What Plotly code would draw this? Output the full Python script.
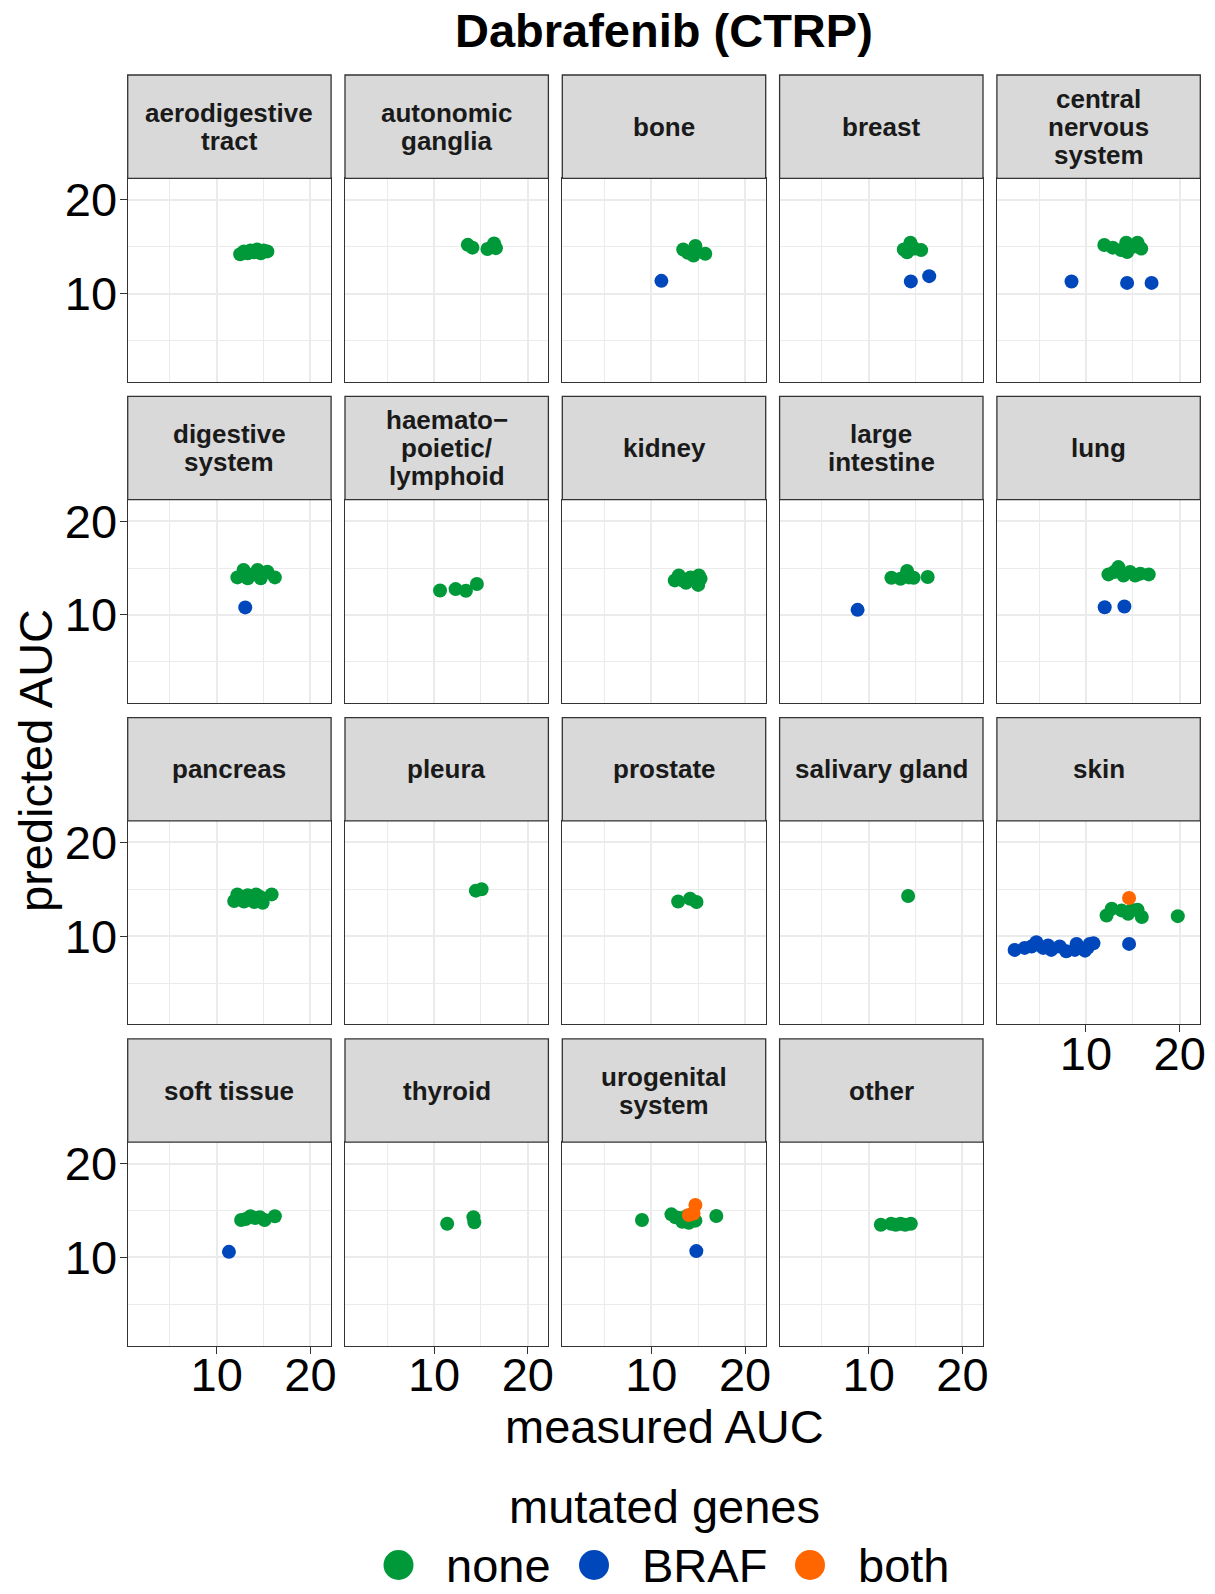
import plotly.graph_objects as go

# ---------------- data ----------------
tissues = ["aerodigestive tract", "autonomic ganglia", "bone", "breast", "central nervous system",
           "digestive system", "haematopoietic/lymphoid", "kidney", "large intestine", "lung",
           "pancreas", "pleura", "prostate", "salivary gland", "skin",
           "soft tissue", "thyroid", "urogenital system", "other"]
strip_labels = ["aerodigestive\ntract", "autonomic\nganglia", "bone", "breast", "central\nnervous\nsystem",
                "digestive\nsystem", "haemato\u2212\npoietic/\nlymphoid", "kidney", "large\nintestine", "lung",
                "pancreas", "pleura", "prostate", "salivary gland", "skin",
                "soft tissue", "thyroid", "urogenital\nsystem", "other"]
groups = ["none", "BRAF", "both"]
group_colors = ["#00993A", "#0047BB", "#FF6600"]

# mutated genes: none
none_tissue = (["aerodigestive tract"] * 9 + ["autonomic ganglia"] * 5 + ["bone"] * 5 + ["breast"] * 5
               + ["central nervous system"] * 8 + ["digestive system"] * 8 + ["haematopoietic/lymphoid"] * 4
               + ["kidney"] * 8 + ["large intestine"] * 6 + ["lung"] * 8 + ["pancreas"] * 9 + ["pleura"] * 2
               + ["prostate"] * 3 + ["salivary gland"] * 1 + ["skin"] * 8 + ["soft tissue"] * 7
               + ["thyroid"] * 3 + ["urogenital system"] * 9 + ["other"] * 6)
none_measured = [12.5, 12.9, 13.3, 13.6, 14.0, 14.3, 14.7, 15.0, 15.4,
                 13.6, 14.1, 15.7, 16.4, 16.6,
                 13.4, 13.9, 14.5, 14.7, 15.75,
                 13.75, 14.1, 14.46, 14.9, 15.6,
                 11.96, 12.86, 13.75, 14.3, 14.4, 15.0, 15.5, 15.9,
                 12.2, 12.86, 13.3, 13.8, 14.36, 14.7, 15.4, 16.2,
                 10.64, 12.3, 13.4, 14.57,
                 12.5, 12.93, 13.3, 13.7, 14.18, 15.0, 15.07, 15.25,
                 12.43, 13.4, 14.1, 14.3, 14.8, 16.3,
                 12.4, 13.0, 13.46, 14.0, 14.7, 15.25, 15.8, 16.7,
                 11.86, 12.2, 12.9, 13.3, 14.0, 14.2, 14.64, 14.9, 15.86,
                 14.46, 15.07,
                 12.86, 14.14, 14.82,
                 14.21,
                 12.2, 12.75, 13.8, 14.5, 14.9, 15.5, 15.96, 19.8,
                 12.6, 13.1, 13.6, 14.1, 14.6, 15.1, 16.2,
                 11.4, 14.2, 14.3,
                 9.0, 12.14, 12.57, 13.0, 13.3, 13.8, 14.0, 14.7, 16.93,
                 11.3, 12.4, 12.9, 13.4, 13.9, 14.5]
none_predicted = [14.2, 14.5, 14.3, 14.6, 14.4, 14.7, 14.3, 14.6, 14.5,
                  15.2, 14.9, 14.75, 15.35, 14.85,
                  14.7, 14.35, 14.07, 15.07, 14.25,
                  14.7, 14.4, 15.43, 14.8, 14.64,
                  15.18, 14.9, 14.64, 15.43, 14.43, 15.0, 15.43, 14.8,
                  14.0, 14.8, 13.9, 14.3, 14.8, 13.9, 14.6, 14.0,
                  12.6, 12.75, 12.57, 13.29,
                  13.68, 14.2, 13.7, 13.43, 14.0, 13.2, 14.2, 13.86,
                  13.96, 13.86, 14.68, 14.0, 13.96, 14.04,
                  14.32, 14.57, 15.1, 14.2, 14.57, 14.2, 14.4, 14.32,
                  13.75, 14.46, 13.7, 14.36, 13.64, 14.46, 14.18, 13.57, 14.46,
                  14.86, 15.0,
                  13.7, 14.0, 13.64,
                  14.29,
                  12.2, 12.93, 12.75, 12.4, 12.8, 12.82, 12.04, 12.14,
                  14.0, 14.1, 14.4, 14.2, 14.3, 14.0, 14.4,
                  13.6, 14.3, 13.75,
                  14.0, 14.6, 14.29, 14.2, 13.8, 14.43, 13.7, 13.93, 14.43,
                  13.5, 13.6, 13.5, 13.6, 13.5, 13.6]

# mutated genes: BRAF
braf_tissue = (["bone"] + ["breast"] * 2 + ["central nervous system"] * 3 + ["digestive system"]
               + ["large intestine"] + ["lung"] * 2 + ["skin"] * 16 + ["soft tissue"] + ["urogenital system"])
braf_measured = [11.07,
                 14.5, 16.46,
                 8.46, 14.39, 17.0,
                 13.04,
                 8.82,
                 12.0, 14.1,
                 2.39, 3.46, 4.2, 4.71, 5.43, 5.96, 6.3, 7.2, 7.9, 8.82, 9.0, 9.9, 10.2, 10.4, 10.8, 14.6,
                 11.3,
                 14.8]
braf_predicted = [11.36,
                  11.3, 11.86,
                  11.29, 11.14, 11.14,
                  10.8,
                  10.54,
                  10.82, 10.9,
                  8.54, 8.75, 8.9, 9.36, 8.75, 9.0, 8.54, 8.9, 8.4, 8.54, 9.18, 8.46, 8.8, 9.18, 9.25, 9.18,
                  10.6,
                  10.68]

# mutated genes: both
both_tissue = ["skin", "urogenital system", "urogenital system", "urogenital system"]
both_measured = [14.6, 14.0, 14.5, 14.7]
both_predicted = [14.07, 14.54, 14.7, 15.6]

x_ticks = [10, 20]
x_minor = [5, 15]
y_ticks = [10, 20]
y_minor = [5, 15]

# ---------------- layout constants ----------------
W, H = 1215, 1594
FONT = "Liberation Sans, Arial, Helvetica, sans-serif"
X0, PITCH_X, PW = 127.7, 217.3, 203.4
Y0, PITCH_Y, SH, PH = 75.0, 321.3, 103.3, 203.4
XR = [0.5, 22.2]
YR = [0.6, 22.3]
BORDER = "#333333"
GRID = "#EBEBEB"
NCOL = 5


def px_x(v):
    return v / W


def px_y(v):
    return 1 - v / H


fig = go.Figure()
layout = dict(template="none", width=W, height=H, margin=dict(l=0, r=0, t=0, b=0, pad=0, autoexpand=False),
              paper_bgcolor="white", plot_bgcolor="white", showlegend=False,
              font=dict(family=FONT, color="black"))
shapes = []
annotations = []

n = len(tissues)
series = [(none_tissue, none_measured, none_predicted),
          (braf_tissue, braf_measured, braf_predicted),
          (both_tissue, both_measured, both_predicted)]

for i, t in enumerate(tissues):
    r, c = divmod(i, NCOL)
    left = X0 + c * PITCH_X
    right = left + PW
    stop = Y0 + r * PITCH_Y
    sbot = stop + SH
    pbot = sbot + PH
    sfx = "" if i == 0 else str(i + 1)
    bottom = i + NCOL >= n
    first_col = c == 0
    layout["xaxis" + sfx] = dict(
        domain=[px_x(left), px_x(right)], range=XR, anchor="y" + sfx, automargin=False,
        tickmode="array", tickvals=x_ticks, showticklabels=bottom,
        ticks="outside" if bottom else "", ticklen=7, tickwidth=1.3, tickcolor=BORDER,
        ticklabelstandoff=-19,
        tickfont=dict(size=47, color="black", family=FONT),
        showgrid=True, gridcolor=GRID, gridwidth=1.6, zeroline=False,
        minor=dict(tickmode="array", tickvals=x_minor, showgrid=True, gridcolor=GRID, gridwidth=1.0, ticks=""),
        showline=True, mirror=True, linecolor=BORDER, linewidth=1.3, fixedrange=True)
    layout["yaxis" + sfx] = dict(
        domain=[px_y(pbot), px_y(sbot)], range=YR, anchor="x" + sfx, automargin=False,
        tickmode="array", tickvals=y_ticks, showticklabels=first_col,
        ticks="outside" if first_col else "", ticklen=7, tickwidth=1.3, tickcolor=BORDER,
        ticklabelstandoff=-7,
        tickfont=dict(size=47, color="black", family=FONT),
        showgrid=True, gridcolor=GRID, gridwidth=1.6, zeroline=False,
        minor=dict(tickmode="array", tickvals=y_minor, showgrid=True, gridcolor=GRID, gridwidth=1.0, ticks=""),
        showline=True, mirror=True, linecolor=BORDER, linewidth=1.3, fixedrange=True)
    # strip
    shapes.append(dict(type="rect", xref="paper", yref="paper",
                       x0=px_x(left), x1=px_x(right), y0=px_y(sbot), y1=px_y(stop),
                       fillcolor="#D9D9D9", line=dict(color=BORDER, width=1.3), layer="above"))
    lines = strip_labels[i].split("\n")
    cy = (stop + sbot) / 2
    for j, ln in enumerate(lines):
        yy = cy + (j - (len(lines) - 1) / 2) * 28
        annotations.append(dict(text="<b>%s</b>" % ln, xref="paper", yref="paper",
                                x=px_x((left + right) / 2), y=px_y(yy), xanchor="center", yanchor="middle",
                                showarrow=False, font=dict(size=26, color="#1A1A1A", family=FONT)))
    # points
    for g, col, (tt, mx, my) in zip(groups, group_colors, series):
        xs = [a for tis, a in zip(tt, mx) if tis == t]
        ys = [b for tis, b in zip(tt, my) if tis == t]
        if xs:
            fig.add_trace(go.Scatter(x=xs, y=ys, mode="markers", name=g,
                                     xaxis="x" + sfx, yaxis="y" + sfx,
                                     marker=dict(color=col, size=14, line=dict(width=0)),
                                     hoverinfo="skip"))

# title and axis titles
annotations.append(dict(text="<b>Dabrafenib (CTRP)</b>", xref="paper", yref="paper",
                        x=px_x(664), y=px_y(30.5), xanchor="center", yanchor="middle", showarrow=False,
                        font=dict(size=47, color="black", family=FONT)))
annotations.append(dict(text="measured AUC", xref="paper", yref="paper",
                        x=px_x(664), y=px_y(1426), xanchor="center", yanchor="middle", showarrow=False,
                        font=dict(size=47, color="black", family=FONT)))
annotations.append(dict(text="predicted AUC", xref="paper", yref="paper", textangle=-90,
                        x=px_x(36), y=px_y(761), xanchor="center", yanchor="middle", showarrow=False,
                        font=dict(size=47, color="black", family=FONT)))

# legend (custom, large keys)
LEGEND_KEY_X = [398.5, 594, 810]
LEGEND_ROW_Y = 1565
annotations.append(dict(text="mutated genes", xref="paper", yref="paper",
                        x=px_x(664), y=px_y(1506), xanchor="center", yanchor="middle", showarrow=False,
                        font=dict(size=47, color="black", family=FONT)))
lsfx = str(n + 1)
layout["xaxis" + lsfx] = dict(domain=[0, 1], range=[0, W], visible=False, anchor="y" + lsfx,
                              fixedrange=True, automargin=False)
layout["yaxis" + lsfx] = dict(domain=[px_y(LEGEND_ROW_Y + 20), px_y(LEGEND_ROW_Y - 20)], range=[0, 1],
                              visible=False, anchor="x" + lsfx, fixedrange=True, automargin=False)
fig.add_trace(go.Scatter(x=LEGEND_KEY_X, y=[0.5] * len(groups), mode="markers",
                         xaxis="x" + lsfx, yaxis="y" + lsfx,
                         marker=dict(color=group_colors, size=30, line=dict(width=0)),
                         hoverinfo="skip", cliponaxis=False))
for g, kx in zip(groups, LEGEND_KEY_X):
    annotations.append(dict(text=g, xref="x" + lsfx, yref="y" + lsfx, x=kx + 45.5, y=0.5,
                            xanchor="left", yanchor="middle", showarrow=False,
                            font=dict(size=47, color="black", family=FONT)))

layout["shapes"] = shapes
layout["annotations"] = annotations
fig.update_layout(**layout)
fig.write_html("out.html")
